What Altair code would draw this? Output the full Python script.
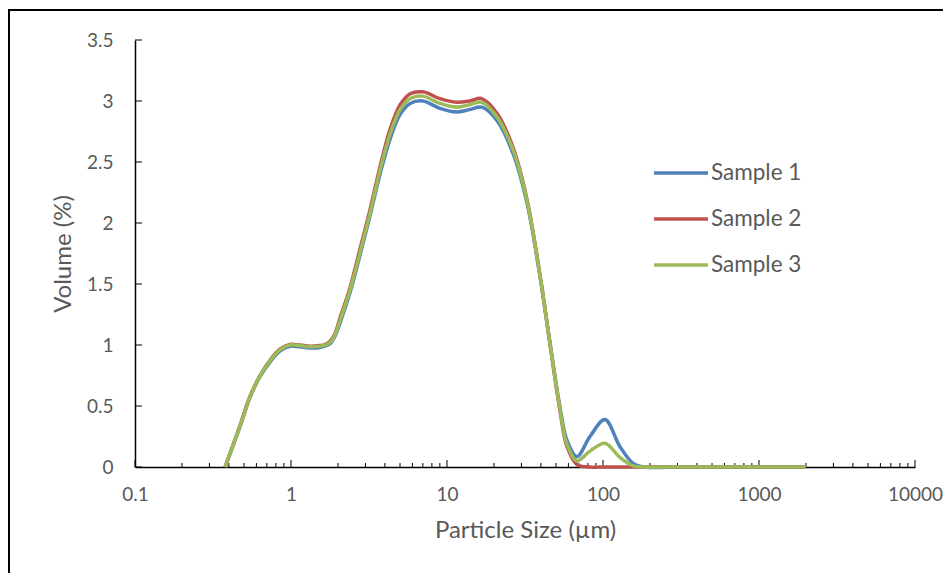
import altair as alt
import pandas as pd

# Particle size classes (µm)
sizes = [0.378, 0.471, 0.546, 0.633, 0.733, 0.849, 0.986, 1.14, 1.32, 1.53,
         1.65, 1.78, 1.91, 2.06, 2.39, 2.76, 3.21, 3.72, 4.32, 5.01, 5.81, 7.0,
         9.0, 11.5, 14.0, 16.7, 20.9, 26.5, 32.6, 39.5, 45.7, 53.0,
         58.7, 68.1, 82.5, 103, 128, 156, 186, 300, 600, 1000, 2000]

sample1 = [0, 0.33, 0.57, 0.74, 0.86, 0.95, 0.99, 0.985, 0.975, 0.98,
           0.99, 1.01, 1.07, 1.18, 1.43, 1.73, 2.06, 2.40, 2.69, 2.89, 2.98, 3.0,
           2.94, 2.91, 2.93, 2.95, 2.84, 2.57, 2.16, 1.56, 1.02, 0.49,
           0.22, 0.085, 0.25, 0.39, 0.17, 0.03, 0, 0, 0, 0, 0]

sample2 = [0, 0.34, 0.58, 0.75, 0.875, 0.965, 1.005, 1.0, 0.99, 0.995,
           1.003, 1.03, 1.09, 1.22, 1.47, 1.78, 2.11, 2.46, 2.77, 2.97, 3.06, 3.075,
           3.02, 2.99, 3.0, 3.02, 2.90, 2.62, 2.19, 1.57, 1.01, 0.46,
           0.17, 0.02, 0, 0, 0, 0, 0, 0, 0, 0, 0]

sample3 = [0, 0.335, 0.575, 0.745, 0.87, 0.96, 1.0, 0.995, 0.985, 0.99,
           0.997, 1.02, 1.08, 1.20, 1.45, 1.75, 2.08, 2.43, 2.73, 2.93, 3.02, 3.04,
           2.98, 2.95, 2.97, 2.99, 2.87, 2.60, 2.18, 1.565, 1.015, 0.475,
           0.19, 0.05, 0.13, 0.195, 0.08, 0.01, 0, 0, 0, 0, 0]

series_names = ["Sample 1", "Sample 2", "Sample 3"]
series_colors = ["#4F81BD", "#C0504D", "#9BBB59"]

y_tick_values = [0, 0.5, 1, 1.5, 2, 2.5, 3, 3.5]
x_major_ticks = [0.1, 1, 10, 100, 1000, 10000]
x_minor_ticks = [m * d for d in [0.1, 1, 10, 100, 1000] for m in range(2, 10)]

rows = []
for name, vals in zip(series_names, [sample1, sample2, sample3]):
    for i, (s, v) in enumerate(zip(sizes, vals)):
        rows.append({"size": s, "volume": v, "series": name, "order": i})
df = pd.DataFrame(rows)

FONT = "Lato"
GREY = "#595959"
W, H = 780, 427

xscale = alt.Scale(type="log", domain=[0.1, 10000], nice=False)
yscale = alt.Scale(domain=[0, 3.5], nice=False, zero=True)

xaxis = alt.Axis(values=x_major_ticks, format="~g", title="Particle Size (µm)",
                 ticks=False, grid=False, domainColor="black", domainWidth=1.5,
                 labelFlush=False, labelPadding=18, titlePadding=14)
yaxis = alt.Axis(values=y_tick_values, format="~g", title="Volume (%)",
                 ticks=False, grid=False, domainColor="black", domainWidth=1.5,
                 labelFlush=False, labelPadding=22, titlePadding=11)

lines = alt.Chart(df).mark_line(interpolate="catmull-rom", strokeWidth=3.5).encode(
    x=alt.X("size:Q", scale=xscale, axis=xaxis),
    y=alt.Y("volume:Q", scale=yscale, axis=yaxis),
    color=alt.Color("series:N",
                    scale=alt.Scale(domain=series_names, range=series_colors),
                    legend=alt.Legend(title=None, orient="none", legendX=517, legendY=104,
                                      symbolType="stroke", symbolSize=2916,
                                      symbolStrokeWidth=3.5, labelOffset=1,
                                      rowPadding=5)),
    detail="series:N",
    order="order:Q",
)

xmaj = alt.Chart(pd.DataFrame({"size": x_major_ticks})).mark_rule(color="black", strokeWidth=1).encode(
    x=alt.X("size:Q", scale=xscale, axis=xaxis),
    y=alt.value(H), y2=alt.value(H - 7),
)
xmin = alt.Chart(pd.DataFrame({"size": x_minor_ticks})).mark_rule(color="black", strokeWidth=1).encode(
    x=alt.X("size:Q", scale=xscale, axis=xaxis),
    y=alt.value(H), y2=alt.value(H - 4),
)
ytk = alt.Chart(pd.DataFrame({"volume": y_tick_values})).mark_rule(color="black", strokeWidth=1).encode(
    y=alt.Y("volume:Q", scale=yscale, axis=yaxis),
    x=alt.value(0), x2=alt.value(7),
)

frame = alt.Chart(pd.DataFrame({"a": [0]})).mark_rect(
    filled=False, stroke="black", strokeWidth=2
).encode(x=alt.value(-126), x2=alt.value(W + 200), y=alt.value(-30), y2=alt.value(H + 300))

chart = alt.layer(frame, xmin, xmaj, ytk, lines).properties(
    width=W, height=H,
    autosize=alt.AutoSizeParams(type="none"),
    padding={"left": 127, "top": 32, "right": 28, "bottom": 106},
).configure_view(stroke=None).configure_axis(
    labelFont=FONT, titleFont=FONT, labelColor=GREY, titleColor=GREY,
    labelFontSize=19, titleFontSize=24, titleFontWeight="normal",
).configure_legend(
    labelFont=FONT, labelFontSize=22.5, labelColor=GREY,
)

chart.save("out.html", embed_options={"renderer": "svg", "actions": False})
